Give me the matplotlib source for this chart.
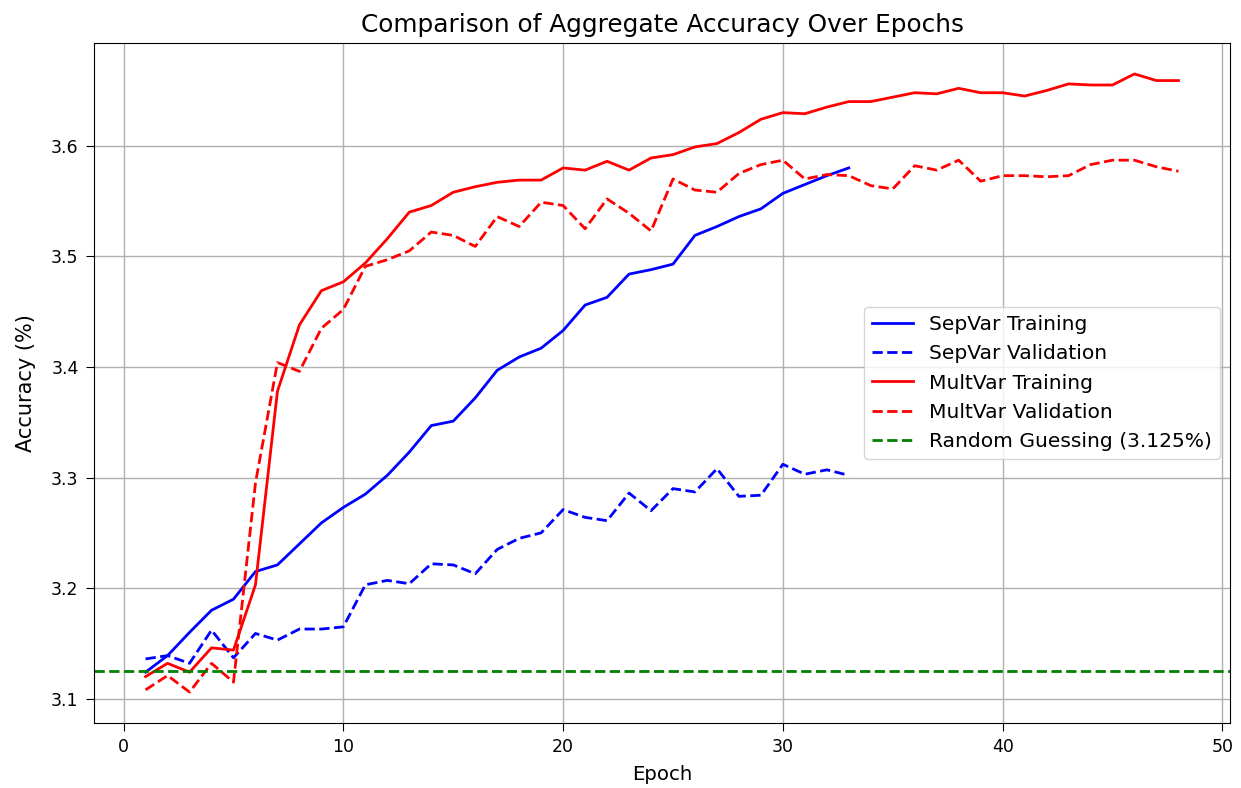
import matplotlib
matplotlib.use("Agg")
import matplotlib.pyplot as plt

epochs_sep = list(range(1, 34))
epochs_mult = list(range(1, 49))

sepvar_train = [3.124, 3.139, 3.160, 3.180, 3.190, 3.215, 3.221, 3.240, 3.259, 3.273,
                3.285, 3.302, 3.323, 3.347, 3.351, 3.372, 3.397, 3.409, 3.417, 3.433,
                3.456, 3.463, 3.484, 3.488, 3.493, 3.519, 3.527, 3.536, 3.543, 3.557,
                3.565, 3.573, 3.580]
sepvar_val = [3.136, 3.139, 3.132, 3.162, 3.137, 3.159, 3.153, 3.163, 3.163, 3.165,
              3.203, 3.207, 3.204, 3.222, 3.221, 3.213, 3.235, 3.245, 3.250, 3.271,
              3.264, 3.261, 3.286, 3.270, 3.290, 3.287, 3.308, 3.283, 3.284, 3.312,
              3.303, 3.307, 3.302]
multvar_train = [3.120, 3.132, 3.124, 3.146, 3.144, 3.203, 3.378, 3.438, 3.469, 3.477,
                 3.494, 3.516, 3.540, 3.546, 3.558, 3.563, 3.567, 3.569, 3.569, 3.580,
                 3.578, 3.586, 3.578, 3.589, 3.592, 3.599, 3.602, 3.612, 3.624, 3.630,
                 3.629, 3.635, 3.640, 3.640, 3.644, 3.648, 3.647, 3.652, 3.648, 3.648,
                 3.645, 3.650, 3.656, 3.655, 3.655, 3.665, 3.659, 3.659]
multvar_val = [3.108, 3.121, 3.106, 3.132, 3.115, 3.295, 3.404, 3.396, 3.435, 3.452,
               3.491, 3.497, 3.505, 3.522, 3.519, 3.509, 3.536, 3.527, 3.549, 3.546,
               3.525, 3.552, 3.539, 3.523, 3.570, 3.560, 3.558, 3.575, 3.583, 3.587,
               3.570, 3.574, 3.573, 3.564, 3.561, 3.582, 3.578, 3.587, 3.568, 3.573,
               3.573, 3.572, 3.573, 3.583, 3.587, 3.587, 3.581, 3.577]
random_guess = 3.125

fig = plt.figure(figsize=(12.41, 7.88), dpi=100)
ax = fig.add_axes([0.0757, 0.0825, 0.9155, 0.8629])

lw = 2.0
ax.plot(epochs_sep, sepvar_train, color='blue', linestyle='-', lw=lw, label='SepVar Training')
ax.plot(epochs_sep, sepvar_val, color='blue', linestyle='--', lw=lw, label='SepVar Validation')
ax.plot(epochs_mult, multvar_train, color='red', linestyle='-', lw=lw, label='MultVar Training')
ax.plot(epochs_mult, multvar_val, color='red', linestyle='--', lw=lw, label='MultVar Validation')
ax.axhline(random_guess, color='green', linestyle='--', lw=lw, label='Random Guessing (3.125%)')

ax.set_title('Comparison of Aggregate Accuracy Over Epochs', fontsize=17.8, pad=8)
ax.set_xlabel('Epoch', fontsize=14.2)
ax.set_ylabel('Accuracy (%)', fontsize=15)
ax.xaxis.set_label_coords(0.5, -0.0615)
ax.yaxis.set_label_coords(-0.051, 0.5)
ax.tick_params(labelsize=12.5, length=6, pad=5)
ax.set_xticks([0, 10, 20, 30, 40, 50])
ax.set_yticks([3.1, 3.2, 3.3, 3.4, 3.5, 3.6])
ax.grid(True, lw=1.0)
ax.legend(loc='center right', fontsize=14.6)

fig.savefig('out.png', dpi=100)
